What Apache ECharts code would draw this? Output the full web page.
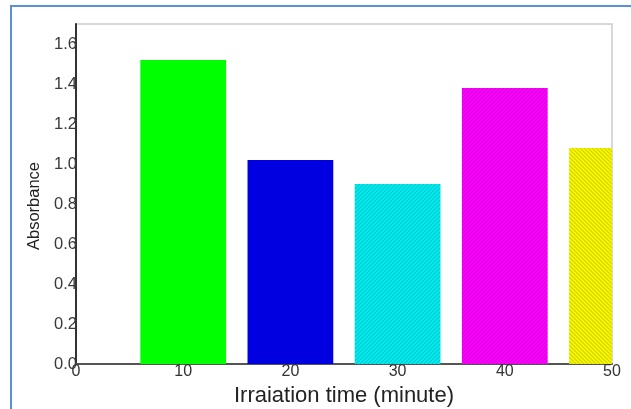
<!DOCTYPE html>
<html>
<head>
<meta charset="utf-8">
<script src="https://cdn.jsdelivr.net/npm/echarts@6/dist/echarts.min.js"></script>
<style>html,body{margin:0;padding:0;background:#fff;}#c{width:631px;height:409px;}</style>
</head>
<body>
<div id="c"></div>
<script>
const times = [10, 20, 30, 40, 50];
const absorbance = [1.52, 1.02, 0.90, 1.38, 1.08];
const barColors = ['#00ff00', '#0000e0', '#00f0f0', '#ff00ff', '#f8f800'];
const hatchColors = [null, null, 'rgba(0,130,160,0.38)', 'rgba(160,0,170,0.4)', 'rgba(150,150,0,0.38)'];
const hatchDir = [0, 0, 1, 1, -1];
const xTicks = [0, 10, 20, 30, 40, 50];
const yTicks = [0, 0.2, 0.4, 0.6, 0.8, 1.0, 1.2, 1.4, 1.6];
const barHalfWidth = 4;

function makePattern(bg, line, dir) {
  const s = 4;
  const cv = document.createElement('canvas');
  cv.width = s; cv.height = s;
  const ctx = cv.getContext('2d');
  ctx.fillStyle = bg; ctx.fillRect(0, 0, s, s);
  ctx.strokeStyle = line; ctx.lineWidth = 1.2;
  ctx.beginPath();
  if (dir > 0) {
    ctx.moveTo(-1, s + 1); ctx.lineTo(s + 1, -1);
    ctx.moveTo(-1, 1); ctx.lineTo(1, -1);
    ctx.moveTo(s - 1, s + 1); ctx.lineTo(s + 1, s - 1);
  } else {
    ctx.moveTo(-1, -1); ctx.lineTo(s + 1, s + 1);
    ctx.moveTo(s - 1, -1); ctx.lineTo(s + 1, 1);
    ctx.moveTo(-1, s - 1); ctx.lineTo(1, s + 1);
  }
  ctx.stroke();
  return {image: cv, repeat: 'repeat'};
}

const fills = barColors.map((c, i) => hatchColors[i] ? makePattern(c, hatchColors[i], hatchDir[i]) : c);

const chart = echarts.init(document.getElementById('c'), null, {renderer: 'canvas'});
const font = "'Liberation Sans', Arial, sans-serif";

chart.setOption({
  animation: false,
  backgroundColor: '#fff',
  graphic: [{
    type: 'rect', shape: {x: 11, y: 6, width: 640, height: 440},
    style: {fill: 'none', stroke: '#5b8fd6', lineWidth: 2}, silent: true
  }],
  grid: {left: 76, right: 19, top: 24, bottom: 45, show: true, borderColor: '#cccccc', borderWidth: 1.5,
    backgroundColor: 'transparent', containLabel: false, outerBoundsMode: 'none'},
  xAxis: {
    type: 'value', min: 0, max: 50, interval: 10,
    name: 'Irraiation time (minute)', nameLocation: 'middle', nameGap: 19,
    nameTextStyle: {fontFamily: font, fontSize: 22, color: '#222', verticalAlign: 'top'},
    axisLine: {show: true, onZero: false, lineStyle: {color: '#555', width: 2}},
    axisTick: {show: false},
    splitLine: {show: false},
    axisLabel: {fontFamily: font, fontSize: 16, color: '#333', margin: 0,
      formatter: v => xTicks.includes(v) ? String(v) : ''}
  },
  yAxis: {
    type: 'value', min: 0, max: 1.7, interval: 0.2,
    name: 'Absorbance', nameLocation: 'middle', nameGap: 33,
    nameTextStyle: {fontFamily: font, fontSize: 16.5, color: '#222', padding: [0, 24, 0, 0]},
    axisLine: {show: true, lineStyle: {color: '#333', width: 2}},
    axisTick: {show: false},
    splitLine: {show: false},
    axisLabel: {fontFamily: font, fontSize: 16.5, color: '#3a3a3a', margin: -1, showMaxLabel: false,
      formatter: v => yTicks.some(t => Math.abs(t - v) < 1e-6) ? v.toFixed(1) : ''}
  },
  series: [{
    type: 'custom',
    data: times.map((t, i) => [t, absorbance[i], i]),
    encode: {x: 0, y: 1},
    renderItem: function (params, api) {
      const x = api.value(0), v = api.value(1), idx = api.value(2);
      const pTop = api.coord([x - barHalfWidth, v]);
      const pBot = api.coord([x + barHalfWidth, 0]);
      const cs = params.coordSys;
      const rect = echarts.graphic.clipRectByRect(
        {x: pTop[0], y: pTop[1], width: pBot[0] - pTop[0], height: pBot[1] - pTop[1]},
        {x: cs.x, y: cs.y, width: cs.width, height: cs.height});
      if (!rect) return null;
      return {type: 'rect', shape: rect, style: {fill: fills[idx], stroke: null}};
    }
  }]
});
</script>
</body>
</html>
